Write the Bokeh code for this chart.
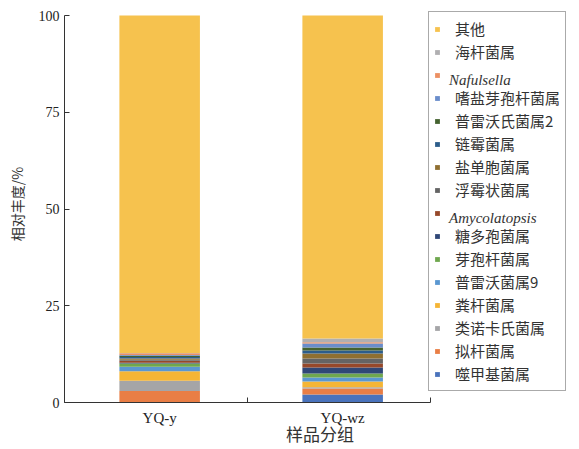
from bokeh.plotting import figure
from bokeh.models import ColumnDataSource, Range1d, FixedTicker, Legend, LegendItem
from bokeh.embed import file_html
from bokeh.resources import INLINE

# ---- data ----
groups = ["YQ-y", "YQ-wz"]
genera = ["噬甲基菌属", "拟杆菌属", "类诺卡氏菌属", "粪杆菌属", "普雷沃菌属9",
          "芽孢杆菌属", "糖多孢菌属", "Amycolatopsis", "浮霉状菌属", "盐单胞菌属",
          "链霉菌属", "普雷沃氏菌属2", "嗜盐芽孢杆菌属", "Nafulsella", "海杆菌属", "其他"]
italic_names = ["Amycolatopsis", "Nafulsella"]
yq_y = [0.05, 2.9, 2.7, 2.4, 1.2, 0.85, 0.2, 0.5, 0.25, 0.3, 0.4, 0.3, 0.2, 0.45, 0.1, 87.2]
yq_wz = [2.07, 1.55, 0.35, 1.46, 1.03, 1.03, 1.55, 1.03, 1.29, 1.29, 0.78, 0.78, 1.03, 0.34, 0.95, 83.47]
colors = ["#4A73BC", "#E97E45", "#A5A5A7", "#F5B535", "#5A97D1",
          "#6FA74E", "#2F4777", "#96482A", "#646464", "#8F6F30",
          "#2C5D8B", "#44622F", "#6A8DCB", "#EC9063", "#B0AFB1", "#F6C24E"]
y_ticks = [0, 25, 50, 75, 100]
y_max = 100

CJK = "Noto Sans CJK SC"
AX = "#333333"

# layout (pixels): axes span 64..430 x 15..402; the frame is larger so the legend can sit in it
W, H = 579, 449
AX_L, AX_R, AX_T, AX_B = 64, 430, 15, 402
FR_R, FR_T = 575, 5
x_end = len(groups) * (FR_R - AX_L) / (AX_R - AX_L)
y_end = y_max * (AX_B - FR_T) / (AX_B - AX_T)

data = {"x": [i + 0.52 for i in range(len(groups))]}
for k, g in enumerate(genera):
    data[g] = [yq_y[k], yq_wz[k]]
src = ColumnDataSource(data)

p = figure(width=W, height=H, output_backend="svg", toolbar_location=None,
           x_range=Range1d(0, x_end), y_range=Range1d(0, y_end),
           min_border_left=AX_L, min_border_right=W - FR_R, min_border_top=FR_T,
           min_border_bottom=H - AX_B)
p.outline_line_color = None
p.xgrid.visible = False
p.ygrid.visible = False

rs = p.vbar_stack(genera, x="x", width=0.44, source=src, fill_color=colors, line_color=None)
# invisible placeholder used only by the overlay legend that prints the italic names
ghost = p.vbar(x=[], top=[], width=0.1, fill_alpha=0, line_alpha=0)

# axes
xa = p.xaxis[0]
xa.bounds = (0, len(groups))
xa.ticker = FixedTicker(ticks=data["x"], minor_ticks=list(range(len(groups) + 1)))
xa.major_label_overrides = {data["x"][i]: groups[i] for i in range(len(groups))}
xa.major_tick_line_color = None
xa.minor_tick_in = 5
xa.minor_tick_out = 0
xa.minor_tick_line_color = AX
xa.axis_line_color = AX
xa.major_label_text_font = "Liberation Serif"
xa.major_label_text_font_size = "15px"
xa.major_label_text_color = "#222222"
xa.major_label_standoff = 1
xa.axis_label = "样品分组"
xa.axis_label_text_font = CJK
xa.axis_label_text_font_size = "17px"
xa.axis_label_text_font_style = "normal"
xa.axis_label_text_color = "#333333"
xa.axis_label_standoff = -8

ya = p.yaxis[0]
ya.bounds = (0, y_max)
ya.ticker = FixedTicker(ticks=y_ticks)
ya.major_tick_in = 5
ya.major_tick_out = 0
ya.major_tick_line_color = AX
ya.minor_tick_line_color = None
ya.axis_line_color = AX
ya.major_label_text_font = "Liberation Serif"
ya.major_label_text_font_size = "14px"
ya.major_label_text_color = "#222222"
ya.major_label_standoff = 5
ya.axis_label = "相对丰度/%"
ya.axis_label_text_font = CJK
ya.axis_label_text_font_size = "14px"
ya.axis_label_text_font_style = "normal"
ya.axis_label_text_color = "#333333"
ya.axis_label_standoff = 9

# legend (reversed order: 其他 at top); italic names drawn by an overlaid legend
order = list(range(len(genera)))[::-1]
items_a = [LegendItem(label=(" " if genera[k] in italic_names else genera[k]), renderers=[rs[k]]) for k in order]
items_b = [LegendItem(label=(genera[k] if genera[k] in italic_names else " "), renderers=[ghost]) for k in order]

common = dict(location=(428 - AX_L, 11), padding=5, margin=0, glyph_width=6, glyph_height=6,
              label_standoff=15, label_height=23, spacing=0,
              label_text_font_size="15px", label_text_color="#333333")
leg_a = Legend(items=items_a, border_line_color="#555555", border_line_width=1,
               background_fill_color="white", background_fill_alpha=1.0,
               label_text_font=CJK, **common)
leg_b = Legend(items=items_b, border_line_color=None, background_fill_alpha=0.0,
               label_text_font="Liberation Serif", label_text_font_style="italic", **common)
p.add_layout(leg_a)
p.add_layout(leg_b)

open("out.html", "w").write(file_html(p, INLINE))
